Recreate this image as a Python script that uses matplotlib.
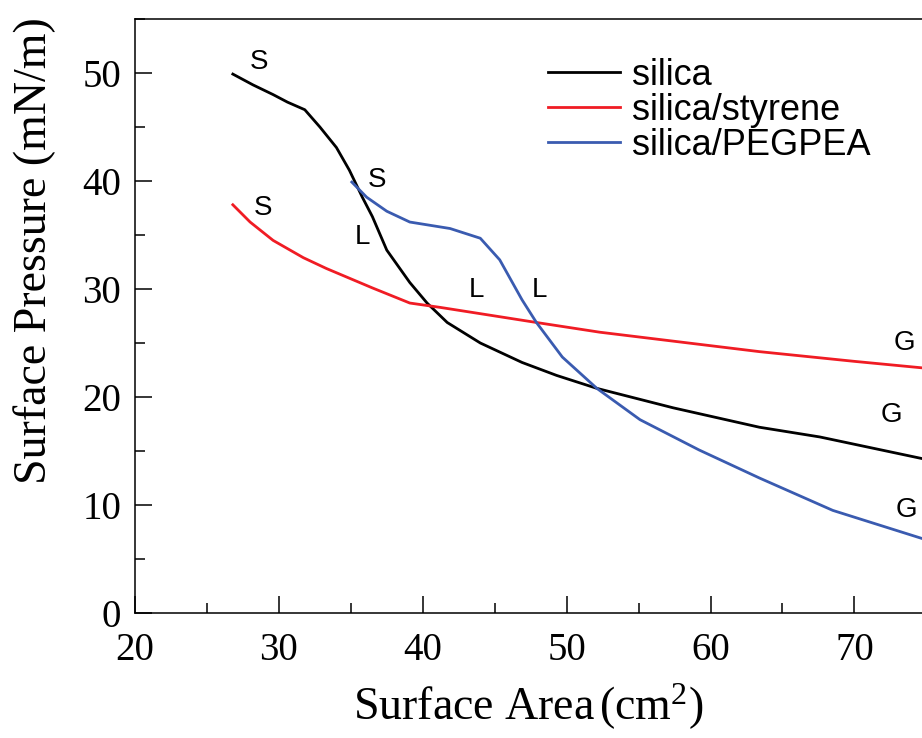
import matplotlib as mpl
mpl.use('Agg')
import matplotlib.pyplot as plt
from matplotlib.ticker import MultipleLocator

# isotherm data (area in cm2, pressure in mN/m)
silica_x = [26.8, 28.2, 29.6, 30.6, 31.8, 32.85, 34.0, 34.9, 35.8, 36.5, 37.5,
            39.1, 40.3, 41.7, 44.0, 46.9, 49.3, 52.1, 57.4, 63.4, 67.6, 74.7]
silica_y = [49.9, 48.9, 48.0, 47.3, 46.6, 45.0, 43.1, 41.0, 38.5, 36.7, 33.6,
            30.6, 28.7, 26.9, 25.0, 23.2, 22.0, 20.8, 19.0, 17.2, 16.3, 14.3]

styrene_x = [26.8, 28.0, 29.6, 31.7, 33.3, 36.5, 39.1, 41.2, 47.9, 52.3,
             63.4, 70.0, 74.7]
styrene_y = [37.8, 36.2, 34.5, 32.9, 31.9, 30.1, 28.7, 28.3, 26.9, 26.0,
             24.2, 23.3, 22.7]

pegpea_x = [35.07, 36.1, 37.5, 39.1, 41.9, 44.0, 45.35, 46.9, 47.9, 49.7,
            52.1, 55.1, 59.2, 63.4, 68.5, 74.7]
pegpea_y = [39.9, 38.5, 37.2, 36.2, 35.6, 34.7, 32.7, 29.0, 26.9, 23.7,
            20.8, 17.9, 15.1, 12.5, 9.5, 6.9]

# phase labels: (x, y, text)
phase_labels = [(28.6, 51.0, 'S'), (28.9, 37.5, 'S'), (36.8, 40.1, 'S'),
                (35.8, 34.8, 'L'), (43.7, 29.9, 'L'), (48.1, 29.9, 'L'),
                (73.5, 25.0, 'G'), (72.6, 18.3, 'G'), (73.6, 9.5, 'G')]

serif = 'Liberation Serif'
sans = 'Liberation Sans'
mpl.rcParams['mathtext.fontset'] = 'custom'
mpl.rcParams['mathtext.rm'] = serif
mpl.rcParams['mathtext.it'] = serif + ':italic'

fig = plt.figure(figsize=(9.22, 7.38), dpi=100)
ax = fig.add_axes([135 / 922, 1 - 613 / 738, 1 - 135 / 922, (613 - 19) / 738])

ax.plot(silica_x, silica_y, color='black', lw=2.0, label='silica')
ax.plot(styrene_x, styrene_y, color='#f01c24', lw=2.0, label='silica/styrene')
ax.plot(pegpea_x, pegpea_y, color='#3a5bb0', lw=2.0, label='silica/PEGPEA')

for x, y, t in phase_labels:
    ax.text(x, y, t, fontsize=20, family=sans, ha='center', va='center')

ax.set_xlim(20, 74.7)
ax.set_ylim(0, 55)
ax.xaxis.set_major_locator(MultipleLocator(10))
ax.xaxis.set_minor_locator(MultipleLocator(5))
ax.yaxis.set_major_locator(MultipleLocator(10))
ax.yaxis.set_minor_locator(MultipleLocator(5))
ax.tick_params(which='both', direction='in', width=1.1)
ax.tick_params(which='major', length=12)
ax.tick_params(which='minor', length=7)
ax.spines['right'].set_visible(False)
for sp in ['left', 'bottom', 'top']:
    ax.spines[sp].set_linewidth(1.1)

for lab in ax.get_xticklabels() + ax.get_yticklabels():
    lab.set_family(serif)
    lab.set_fontsize(28)
ax.tick_params(axis='x', pad=14)
ax.tick_params(axis='y', pad=10)

ax.set_xlabel('Surface Area$\\,$(cm$^2$)', family=serif, fontsize=33, labelpad=9)
ax.set_ylabel('Surface Pressure (mN/m)', family=serif, fontsize=33)
ax.yaxis.set_label_coords(-0.1, 0.61)

leg = ax.legend(loc='upper left', bbox_to_anchor=(0.525, 0.935), frameon=False,
                prop={'family': sans, 'size': 26}, handlelength=2.0,
                labelspacing=0.0, handletextpad=0.33, borderaxespad=0,
                borderpad=0)

plt.savefig('out.png', dpi=100)
plt.close()
